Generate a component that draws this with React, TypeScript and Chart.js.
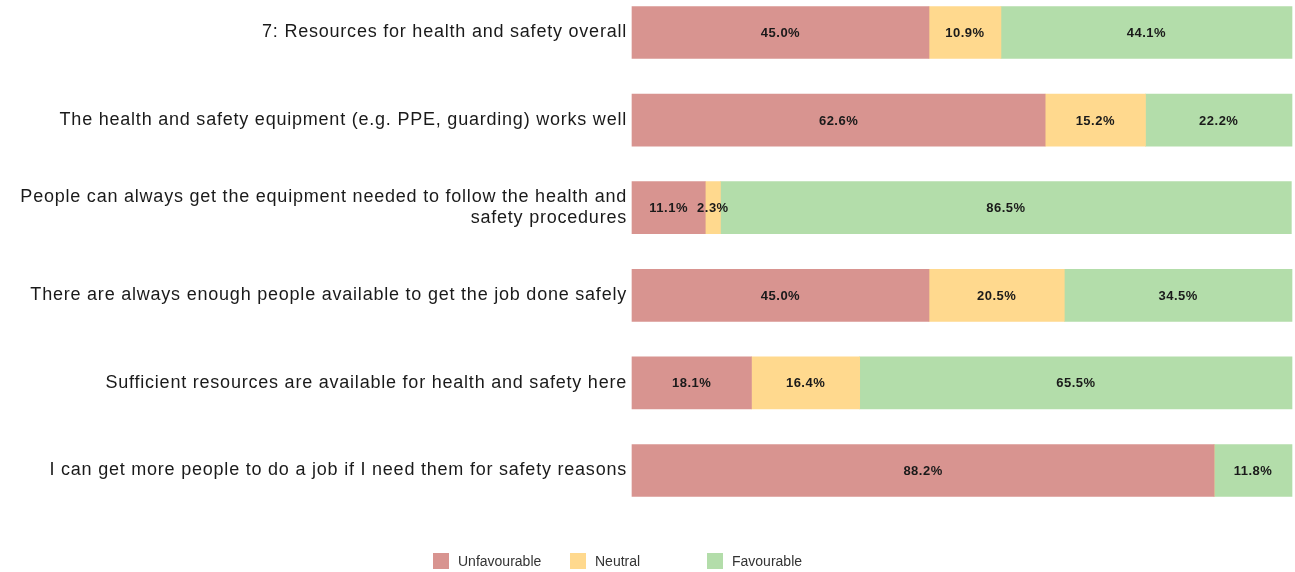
import React, { useEffect, useRef } from "react";
import { Chart, registerables } from "chart.js";

Chart.register(...registerables);

const categories: (string | string[])[] = [
  "7: Resources for health and safety overall",
  "The health and safety equipment (e.g. PPE, guarding) works well",
  ["People can always get the equipment needed to follow the health and", "safety procedures"],
  "There are always enough people available to get the job done safely",
  "Sufficient resources are available for health and safety here",
  "I can get more people to do a job if I need them for safety reasons",
];
const seriesNames = ["Unfavourable", "Neutral", "Favourable"];
const unfavourable = [45.0, 62.6, 11.1, 45.0, 18.1, 88.2];
const neutral = [10.9, 15.2, 2.3, 20.5, 16.4, 0];
const favourable = [44.1, 22.2, 86.5, 34.5, 65.5, 11.8];
const colors = ["#D89490", "#FFD98E", "#B3DDAA"];

const FONT = "'Liberation Sans', Arial, sans-serif";

const spacingPlugin = {
  id: "spacing",
  beforeDraw(chart: any) {
    (chart.ctx as any).letterSpacing = "0.78px";
  },
  beforeDatasetsDraw(chart: any) {
    (chart.ctx as any).letterSpacing = "0px";
  },
};

const dataLabelPlugin = {
  id: "dataLabels",
  afterDatasetsDraw(chart: any) {
    const ctx = chart.ctx;
    ctx.save();
    (ctx as any).letterSpacing = "0.5px";
    ctx.font = `bold 13px ${FONT}`;
    ctx.fillStyle = "#1a1a1a";
    ctx.textAlign = "center";
    ctx.textBaseline = "middle";
    chart.data.datasets.forEach((ds: any, di: number) => {
      const meta = chart.getDatasetMeta(di);
      meta.data.forEach((el: any, i: number) => {
        const v = ds.data[i];
        if (!v) return;
        const p = el.getCenterPoint();
        ctx.fillText(v.toFixed(1) + "%", p.x, p.y + 1);
      });
    });
    ctx.restore();
  },
};

const legendPlugin = {
  id: "customLegend",
  afterDraw(chart: any) {
    const ctx = chart.ctx;
    ctx.save();
    (ctx as any).letterSpacing = "0px";
    ctx.font = `14px ${FONT}`;
    ctx.textBaseline = "middle";
    ctx.textAlign = "left";
    const startX = 433;
    const colW = 137;
    const y = 561;
    seriesNames.forEach((name, i) => {
      const x = startX + i * colW;
      ctx.fillStyle = colors[i];
      ctx.fillRect(x, y - 8, 16, 16);
      ctx.fillStyle = "#333333";
      ctx.fillText(name, x + 25, y + 1);
    });
    ctx.restore();
  },
};

export default function App() {
  const ref = useRef<HTMLCanvasElement>(null);
  useEffect(() => {
    const chart = new Chart(ref.current!, {
      type: "bar",
      data: {
        labels: categories,
        datasets: [unfavourable, neutral, favourable].map((d, i) => ({
          label: seriesNames[i],
          data: d,
          backgroundColor: colors[i],
          borderWidth: 0,
          barThickness: 52,
          clip: false as any,
        })),
      },
      options: {
        indexAxis: "y",
        animation: false,
        responsive: false,
        layout: { padding: { top: 32.5, bottom: 101.5, right: 3, left: 0 } },
        plugins: { legend: { display: false }, tooltip: { enabled: false } },
        scales: {
          x: { stacked: true, min: 0, max: 100, display: false },
          y: {
            stacked: true,
            offset: false,
            grid: { display: false, drawTicks: false },
            border: { display: false },
            ticks: { padding: 5, color: "#1a1a1a", font: { family: FONT, size: 18 } },
            afterFit: (s: any) => {
              s.width = 632;
            },
          },
        },
      },
      plugins: [spacingPlugin, dataLabelPlugin, legendPlugin],
    });
    return () => chart.destroy();
  }, []);
  return (
    <div style={{ position: "fixed", left: 0, top: 0, width: 1295, height: 572, background: "#fff" }}>
      <canvas ref={ref} width={1295} height={572} style={{ width: 1295, height: 572 }} />
    </div>
  );
}
